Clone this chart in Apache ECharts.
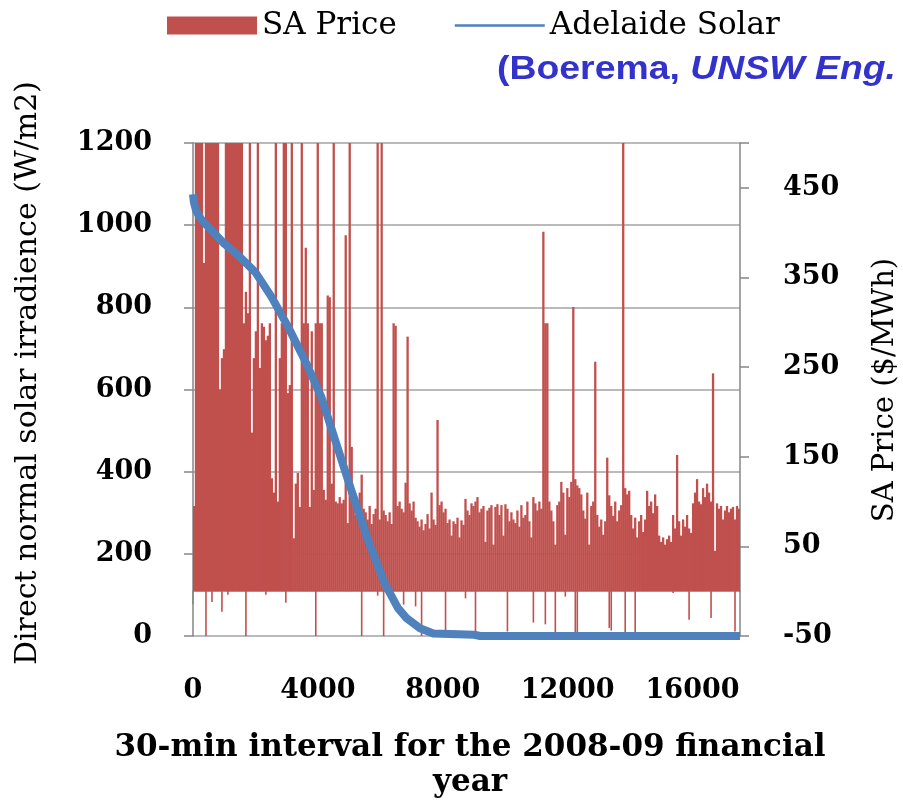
<!DOCTYPE html>
<html>
<head>
<meta charset="utf-8">
<script src="https://cdn.jsdelivr.net/npm/echarts@6/dist/echarts.min.js"></script>
<style>
  html, body { margin: 0; padding: 0; background: #ffffff; }
  #chart { width: 903px; height: 804px; }
</style>
</head>
<body>
<div id="chart"></div>
<script>
// Half-hour intervals summarised by each price bar
const binSize = 64;

// SA price ($/MWh), peak value in each bin, intervals sorted by descending solar irradiance
const priceHigh = [
  95, 650, 700, 700, 680, 366, 700, 700, 700, 700,
  700, 700, 690, 225, 260, 270, 700, 700, 700, 700,
  700, 700, 700, 700, 700, 299, 334, 310, 700, 177,
  260, 290, 700, 249, 299, 295, 280, 285, 299, 126,
  110, 700, 100, 260, 299, 700, 700, 221, 230, 700,
  59, 120, 132, 94, 700, 299, 383, 299, 94, 290,
  113, 299, 700, 299, 299, 113, 102, 330, 328, 120,
  700, 100, 98, 105, 98, 102, 397, 76, 700, 161,
  95, 85, 100, 110, 130, 92, 88, 80, 95, 75,
  86, 92, 700, 80, 700, 90, 85, 78, 88, 75,
  299, 296, 95, 100, 92, 88, 121, 284, 98, 90,
  100, 82, 78, 72, 80, 68, 75, 86, 70, 110,
  80, 74, 191, 96, 100, 88, 92, 76, 80, 62,
  78, 75, 82, 60, 79, 74, 103, 90, 85, 98,
  95, 100, 105, 88, 92, 95, 55, 90, 93, 96,
  52, 94, 97, 85, 96, 62, 97, 92, 78, 88,
  80, 76, 90, 72, 96, 82, 85, 100, 78, 60,
  105, 98, 90, 100, 92, 401, 299, 299, 100, 90,
  78, 52, 96, 100, 122, 110, 63, 115, 105, 122,
  317, 125, 118, 115, 108, 90, 81, 110, 52, 95,
  100, 256, 85, 72, 80, 63, 78, 149, 107, 95,
  84, 100, 78, 90, 96, 700, 115, 108, 112, 85,
  70, 82, 60, 78, 85, 66, 80, 112, 95, 100,
  87, 108, 95, 62, 55, 60, 52, 58, 62, 55,
  85, 70, 152, 78, 62, 80, 72, 85, 70, 65,
  98, 110, 125, 100, 97, 115, 105, 120, 110, 100,
  243, 45, 98, 92, 95, 80, 90, 95, 88, 92,
  94, 80, 95, 92
];

// Negative price events: [bin, $/MWh]
const priceDips = [
  [6, -50], [9, -12], [14, -23], [17, -4], [26, -50], [36, -4], [46, -13],
  [61, -50], [84, -50], [92, -5], [95, -50], [105, -15], [111, -17],
  [114, -50], [126, -48], [136, -8], [141, -50], [157, -45], [170, -35],
  [176, -37], [181, -48], [186, -6], [191, -50], [192, -50], [208, -41],
  [209, -44], [216, -50], [221, -50], [240, -2], [248, -32], [259, -30],
  [271, -45]
];

// Adelaide direct normal irradiance (W/m2), sorted duration curve
const solarX = [0, 30, 100, 250, 500, 1000, 1441, 2000, 2509, 3043, 3577, 4110,
  4538, 5071, 5605, 6139, 6566, 6845, 7271, 7697, 8500, 9000, 9200, 17520];
const solarY = [1075, 1055, 1035, 1015, 995, 955, 927, 885, 826, 753, 672, 582,
  480, 355, 234, 128, 68, 43, 19, 6, 4, 3, 0, 0];

// Tick labels
const xTickLabels = [0, 4000, 8000, 12000, 16000];
const priceTickLabels = [-50, 50, 150, 250, 350, 450];

const binStarts = priceHigh.map((_, i) => i * binSize);
const dipData = priceHigh.map(() => null);
priceDips.forEach(([bin, v]) => { dipData[bin] = v; });

const serif = 'DejaVu Serif';
const axisGray = '#868686';
const priceRed = '#C0504D';
const solarBlue = '#4F81BD';

const chart = echarts.init(document.getElementById('chart'), null, { renderer: 'canvas' });

chart.setOption({
  animation: false,
  backgroundColor: '#ffffff',
  grid: { left: 193, right: 163, top: 143, bottom: 168, containLabel: false },
  legend: {
    left: 167,
    top: 10,
    padding: 0,
    itemWidth: 90,
    itemHeight: 18,
    itemGap: 58,
    symbolKeepAspect: true,
    textStyle: { fontFamily: serif, fontSize: 31, color: '#000' },
    data: [
      { name: 'SA Price', icon: 'rect' },
      { name: 'Adelaide Solar', icon: 'path://M0,0H100V3H0Z' }
    ]
  },
  xAxis: [
    {
      // price bins (positive part)
      type: 'category',
      data: binStarts,
      show: false,
      boundaryGap: true
    },
    {
      type: 'value',
      min: 0,
      max: 17520,
      interval: 4000,
      position: 'bottom',
      axisLine: { show: true, lineStyle: { color: axisGray, width: 1.5 } },
      axisTick: { show: true, customValues: [0], length: 13, lineStyle: { color: axisGray, width: 1.5 } },
      splitLine: { show: false },
      axisLabel: {
        margin: 41,
        fontFamily: serif,
        fontWeight: 'bold',
        fontSize: 27,
        color: '#000',
        formatter: v => (xTickLabels.indexOf(v) >= 0 ? String(v) : '')
      }
    },
    {
      // price bins (negative part)
      type: 'category',
      data: binStarts,
      show: false,
      boundaryGap: true
    }
  ],
  yAxis: [
    {
      type: 'value',
      min: 0,
      max: 1200,
      interval: 200,
      position: 'left',
      axisLine: { show: true, lineStyle: { color: axisGray, width: 1.5 } },
      axisTick: { show: true, length: 9, lineStyle: { color: axisGray, width: 1.5 } },
      splitLine: { show: true, lineStyle: { color: '#A3A3A3', width: 1.5 } },
      axisLabel: {
        margin: 41,
        fontFamily: serif,
        fontWeight: 'bold',
        fontSize: 27,
        color: '#000',
        formatter: v => String(v)
      }
    },
    {
      type: 'value',
      min: -50,
      max: 500,
      interval: 100,
      position: 'right',
      axisLine: { show: true, lineStyle: { color: axisGray, width: 1.5 } },
      axisTick: { show: true, length: 9, lineStyle: { color: axisGray, width: 1.5 } },
      splitLine: { show: false },
      axisLabel: {
        margin: 43,
        fontFamily: serif,
        fontWeight: 'bold',
        fontSize: 27,
        color: '#000',
        formatter: v => (priceTickLabels.indexOf(v) >= 0 ? String(v) : '')
      }
    }
  ],
  series: [
    {
      name: 'SA Price',
      type: 'bar',
      xAxisIndex: 0,
      yAxisIndex: 1,
      data: priceHigh,
      barWidth: 2.3,
      z: 2,
      itemStyle: { color: priceRed },
      clip: true
    },
    {
      // negative-price intervals
      name: 'SA Price',
      type: 'bar',
      xAxisIndex: 2,
      yAxisIndex: 1,
      data: dipData,
      barWidth: 1.6,
      z: 2,
      itemStyle: { color: priceRed },
      clip: true
    },
    {
      name: 'Adelaide Solar',
      type: 'line',
      xAxisIndex: 1,
      yAxisIndex: 0,
      data: solarX.map((x, i) => [x, solarY[i]]),
      showSymbol: false,
      smooth: false,
      clip: true,
      z: 3,
      itemStyle: { color: solarBlue },
      lineStyle: { color: solarBlue, width: 8, join: 'round' }
    }
  ],
  graphic: [
    {
      type: 'text',
      x: 28,
      y: 373,
      rotation: Math.PI / 2,
      style: {
        text: 'Direct normal solar irradience (W/m2)',
        font: '30px "DejaVu Serif"',
        fill: '#000',
        align: 'center',
        verticalAlign: 'middle',
        textAlign: 'center',
        textVerticalAlign: 'middle'
      }
    },
    {
      type: 'text',
      x: 885,
      y: 390,
      rotation: Math.PI / 2,
      style: {
        text: 'SA Price ($/MWh)',
        font: '29px "DejaVu Serif"',
        fill: '#000',
        align: 'center',
        verticalAlign: 'middle',
        textAlign: 'center',
        textVerticalAlign: 'middle'
      }
    },
    {
      type: 'text',
      x: 470,
      y: 765,
      style: {
        text: '30-min interval for the 2008-09 financial\nyear',
        font: 'bold 31px "DejaVu Serif"',
        lineHeight: 35,
        fill: '#000',
        align: 'center',
        verticalAlign: 'middle',
        textAlign: 'center',
        textVerticalAlign: 'middle'
      }
    },
    {
      type: 'text',
      x: 497,
      y: 70,
      scaleX: 1.1,
      style: {
        text: '{a|(Boerema, }{b|UNSW Eng.}',
        align: 'left',
        verticalAlign: 'middle',
        textAlign: 'left',
        textVerticalAlign: 'middle',
        rich: {
          a: { fontFamily: 'Liberation Sans', fontWeight: 'bold', fontSize: 34, fill: '#3333CC', color: '#3333CC' },
          b: { fontFamily: 'Liberation Sans', fontWeight: 'bold', fontStyle: 'italic', fontSize: 34, fill: '#3333CC', color: '#3333CC' }
        }
      }
    }
  ]
});
</script>
</body>
</html>
